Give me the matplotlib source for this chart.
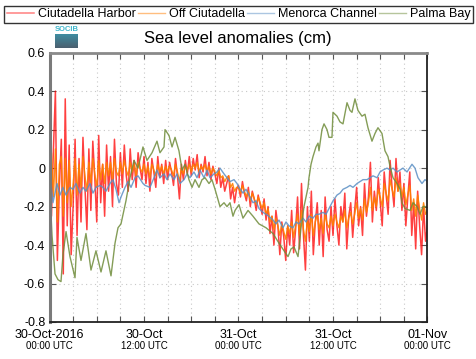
import numpy as np
import matplotlib
matplotlib.use("Agg")
import matplotlib.pyplot as plt
from matplotlib.colors import LinearSegmentedColormap

plt.rcParams['font.family'] = ['Liberation Sans', 'DejaVu Sans']

# time axis: hours since 30-Oct-2016 00:00 UTC
# Ciutadella Harbor / Off Ciutadella sampled every 15 min
step_hours = np.arange(0, 48.001, 0.25)

harbor = [
    0.05, -0.25, 0.10, 0.40, -0.48, -0.10, 0.15, -0.55, 0.36, -0.30, 0.12, -0.45,
    -0.20, 0.15, -0.35, 0.05, -0.28, 0.16, -0.10, -0.32, 0.10, -0.22, 0.14, -0.05,
    -0.28, 0.17, -0.18, 0.02, -0.25, 0.12, -0.12, 0.06, -0.20, 0.15, -0.08, -0.14,
    0.08, -0.10, 0.12, -0.04, -0.12, 0.10, -0.06, 0.04, -0.10, 0.08, 0.00, -0.06,
    0.06, -0.08, 0.03, -0.12, 0.05, -0.02, -0.10, 0.06, -0.05, 0.02, -0.08, 0.04,
    -0.06, 0.03, -0.02, -0.09, 0.05, -0.04, -0.16, 0.02, -0.06, 0.04, -0.03, 0.06,
    -0.04, 0.05, -0.01, 0.07, -0.05, 0.02, -0.02, 0.06, -0.04, 0.03, -0.06, 0.01,
    -0.03, -0.08, 0.00, -0.10, -0.05, -0.12, -0.08, -0.04, -0.16, -0.10, -0.18, -0.11,
    -0.09, -0.15, -0.07, -0.13, -0.17, -0.10, -0.20, -0.12, -0.16, -0.22, -0.14, -0.19,
    -0.24, -0.16, -0.27, -0.20, -0.34, -0.25, -0.40, -0.22, -0.30, -0.45, -0.28, -0.36,
    -0.48, -0.30, -0.40, -0.22, -0.44, -0.32, -0.15, -0.42, -0.08, -0.35, -0.53, -0.20,
    -0.38, -0.12, -0.45, -0.28, -0.18, -0.40, -0.22, -0.46, -0.15, -0.32, -0.38, -0.20,
    -0.35, -0.16, -0.30, -0.40, -0.20, -0.28, -0.13, -0.42, -0.25, -0.18, -0.36, -0.22,
    -0.10, -0.30, -0.20, -0.35, -0.08, -0.25, -0.15, 0.03, -0.28, -0.12, -0.22, -0.05,
    -0.18, -0.30, -0.02, -0.14, -0.24, 0.04, -0.10, -0.20, 0.05, -0.12, -0.02, -0.22,
    -0.08, -0.30, -0.15, -0.02, -0.35, -0.18, -0.42, -0.12, -0.30, -0.45, -0.20, -0.38,
    -0.30,
]

off_ciutadella = [
    -0.05, 0.08, -0.15, 0.10, -0.28, 0.02, 0.06, -0.25, 0.05, -0.18, 0.04, -0.20,
    -0.08, 0.05, -0.14, 0.02, -0.10, 0.06, -0.04, -0.12, 0.03, -0.08, 0.05, -0.03,
    -0.10, 0.04, -0.06, 0.02, -0.08, 0.03, -0.04, 0.03, -0.06, 0.05, -0.02, -0.04,
    0.03, -0.03, 0.04, -0.01, -0.04, 0.03, -0.02, 0.02, -0.04, 0.03, 0.00, -0.02,
    0.02, -0.03, 0.01, -0.05, 0.02, -0.01, -0.04, 0.02, -0.02, 0.01, -0.03, 0.01,
    -0.02, 0.01, -0.01, -0.04, 0.02, -0.02, -0.07, 0.00, -0.03, 0.01, -0.01, 0.02,
    -0.02, 0.02, 0.00, 0.03, -0.02, 0.01, -0.01, 0.02, -0.02, 0.01, -0.03, 0.00,
    -0.02, -0.04, -0.01, -0.05, -0.04, -0.07, -0.05, -0.04, -0.10, -0.08, -0.12, -0.10,
    -0.10, -0.13, -0.09, -0.12, -0.15, -0.12, -0.17, -0.13, -0.16, -0.19, -0.15, -0.18,
    -0.21, -0.18, -0.24, -0.21, -0.28, -0.25, -0.32, -0.26, -0.30, -0.35, -0.29, -0.33,
    -0.37, -0.30, -0.34, -0.28, -0.36, -0.30, -0.24, -0.35, -0.22, -0.32, -0.38, -0.27,
    -0.33, -0.24, -0.35, -0.28, -0.24, -0.32, -0.26, -0.34, -0.24, -0.29, -0.31, -0.25,
    -0.30, -0.24, -0.28, -0.31, -0.25, -0.28, -0.22, -0.31, -0.26, -0.23, -0.29, -0.24,
    -0.18, -0.26, -0.21, -0.27, -0.16, -0.23, -0.18, -0.10, -0.22, -0.15, -0.20, -0.11,
    -0.15, -0.20, -0.08, -0.13, -0.17, -0.06, -0.11, -0.15, -0.05, -0.12, -0.08, -0.15,
    -0.10, -0.19, -0.14, -0.09, -0.22, -0.16, -0.25, -0.14, -0.21, -0.27, -0.18, -0.24,
    -0.22,
]

# Menorca Channel
channel_hours = [
    0.0, 0.44, 0.70, 0.95, 1.33, 1.71, 2.10, 2.60, 2.98, 3.37, 3.87, 4.25, 4.63,
    5.14, 5.52, 5.90, 6.41, 6.79, 7.17, 7.68, 8.06, 8.44, 8.83, 9.08, 9.59, 9.97,
    10.35, 10.86, 11.24, 11.87, 12.13, 12.76, 13.27, 13.65, 14.03, 14.54, 14.92,
    15.30, 15.81, 16.19, 16.57, 17.08, 17.46, 17.84, 18.35, 18.73, 19.11, 19.62,
    20.0, 20.38, 20.89, 21.27, 21.65, 22.16, 22.54, 22.92, 23.43, 23.81, 24.06,
    24.57, 24.95, 25.33, 25.84, 26.22, 26.60, 27.11, 27.49, 27.87, 28.38, 28.76,
    29.14, 29.65, 30.03, 30.41, 30.92, 31.30, 31.68, 32.19, 32.57, 32.95, 33.46,
    33.84, 34.22, 34.73, 35.11, 35.49, 36.0, 36.51, 36.89, 37.27, 37.78, 38.16,
    38.54, 39.05, 39.43, 39.81, 40.32, 40.70, 41.08, 41.59, 41.97, 42.35, 42.86,
    43.24, 43.62, 44.13, 44.51, 44.89, 45.40, 46.03, 46.41, 46.79, 47.30, 47.68, 48.0,
]
channel = [
    0.0, -0.18, -0.13, -0.08, -0.14, -0.10, -0.14, -0.10, -0.11, -0.08, -0.13, -0.10, -0.12,
    -0.08, -0.13, -0.10, -0.09, -0.10, -0.12, -0.08, -0.06, -0.11, -0.18, -0.15, -0.10, -0.07,
    -0.10, -0.05, -0.04, -0.08, -0.09, -0.10, -0.05, -0.01, -0.05, -0.03, -0.06,
    -0.03, -0.06, -0.03, -0.08, -0.06, -0.03, -0.05, -0.02, -0.05, -0.01, -0.05,
    -0.01, -0.05, -0.03, -0.02, 0.0, -0.03, -0.05, -0.07, -0.06, -0.08, -0.10,
    -0.13, -0.11, -0.14, -0.18, -0.17, -0.21, -0.23, -0.24, -0.25, -0.27, -0.29,
    -0.27, -0.31, -0.28, -0.30, -0.31, -0.28, -0.29, -0.26, -0.28, -0.25, -0.26,
    -0.24, -0.24, -0.23, -0.24, -0.21, -0.17, -0.14, -0.13, -0.11, -0.10, -0.09,
    -0.10, -0.08, -0.07, -0.06, -0.06, -0.05, -0.04, -0.05, -0.02, -0.01, 0.0,
    -0.01, 0.0, -0.02, -0.01, 0.0, -0.02, 0.02, 0.0, -0.05, -0.08, -0.06, -0.07,
]

# Palma Bay
palma_hours = [
    0.0, 0.32, 0.70, 1.08, 1.46, 1.71, 2.10, 2.60, 3.24, 3.49, 4.0, 4.63, 5.27,
    5.90, 6.54, 7.17, 7.81, 8.32, 8.70, 9.08, 9.71, 10.22, 10.73, 11.24, 11.87,
    12.38, 13.02, 13.65, 14.03, 14.54, 14.67, 15.17, 15.56, 15.94, 16.44, 16.83,
    17.21, 17.71, 18.10, 18.48, 18.98, 19.37, 19.75, 20.25, 20.63, 21.02, 21.65,
    22.16, 22.54, 22.92, 23.30, 23.56, 24.06, 24.57, 25.21, 25.84, 26.60, 27.49,
    28.38, 29.14, 29.78, 30.29, 30.67, 31.05, 31.56, 31.94, 32.32, 32.83, 32.95,
    33.21, 33.46, 33.84, 34.10, 34.22, 34.60, 34.86, 35.24, 35.49, 35.87, 36.0,
    36.51, 36.89, 37.27, 37.78, 38.16, 38.41, 38.79, 39.17, 39.68, 40.06, 40.44,
    40.95, 41.33, 41.71, 42.22, 42.60, 42.98, 43.24, 43.62, 44.13, 44.51, 44.76,
    45.14, 45.78, 46.16, 46.67, 47.05, 47.43, 47.94,
]
palma = [
    -0.08, -0.35, -0.55, -0.58, -0.59, -0.45, -0.33, -0.46, -0.57, -0.36, -0.48, -0.34, -0.53,
    -0.43, -0.54, -0.43, -0.56, -0.39, -0.31, -0.29, -0.17, -0.05, 0.04, 0.0, 0.11,
    0.04, 0.08, 0.14, 0.08, 0.11, 0.20, 0.17, 0.11, 0.16, 0.09, -0.01,
    0.02, -0.06, -0.10, -0.06, -0.10, -0.06, -0.05, -0.08, -0.06, -0.11, -0.20,
    -0.18, -0.20, -0.18, -0.25, -0.22, -0.19, -0.26, -0.22, -0.25, -0.29, -0.31,
    -0.34, -0.39, -0.43, -0.46, -0.42, -0.41, -0.46, -0.31, -0.20, -0.10, -0.05,
    0.02, 0.06, 0.11, 0.13, 0.09, 0.20, 0.23, 0.20, 0.16, 0.16, 0.29,
    0.27, 0.24, 0.23, 0.34, 0.30, 0.29, 0.36, 0.30, 0.27, 0.28, 0.21,
    0.14, 0.18, 0.21, 0.18, 0.09, 0.06, 0.01, -0.05, -0.08, -0.11, -0.18,
    -0.21, -0.22, -0.18, -0.20, -0.24, -0.20, -0.20,
]

tick_hours = [0, 12, 24, 36, 48]
tick_dates = ['30-Oct-2016', '30-Oct', '31-Oct', '31-Oct', '01-Nov']
tick_times = ['00:00 UTC', '12:00 UTC', '00:00 UTC', '12:00 UTC', '00:00 UTC']

fig = plt.figure(figsize=(4.76, 3.59), dpi=100)
ax = fig.add_axes([49.5 / 476, 1 - 322 / 359, 378 / 476, 269.3 / 359])

ax.plot(step_hours, harbor, color='#ff0000', lw=1.1, alpha=0.75, label='Ciutadella Harbor')
ax.plot(step_hours, off_ciutadella, color='#ff7f00', lw=1.0, alpha=0.9, label='Off Ciutadella')
ax.plot(channel_hours, channel, color='#5b8fc4', lw=1.0, alpha=0.85, label='Menorca Channel')
ax.plot(palma_hours, palma, color='#6f8c3a', lw=1.0, alpha=0.85, label='Palma Bay')

ax.set_xlim(0, 48)
ax.set_ylim(-0.8, 0.6)
ax.set_yticks(np.arange(-0.8, 0.61, 0.2))
ax.set_yticklabels(['-0.8', '-0.6', '-0.4', '-0.2', '0', '0.2', '0.4', '0.6'], fontsize=9)
ax.set_xticks(tick_hours)
ax.set_xticklabels(tick_dates, fontsize=9)
ax.set_xticks(np.arange(0, 48.1, 3), minor=True)
ax.tick_params(axis='both', which='both', direction='in', length=4, width=0.8,
               top=True, right=True, color='#555555')
ax.tick_params(axis='x', which='major', pad=5)
ax.tick_params(axis='y', which='major', pad=3)
ax.grid(True, which='both', axis='x', color='#c8c8c8', linestyle=(0, (1, 3)), lw=0.8)
ax.grid(True, which='major', axis='y', color='#c8c8c8', linestyle=(0, (1, 3)), lw=0.8)

ax.spines['left'].set_color('#7a7a7a')
ax.spines['left'].set_linewidth(2.2)
ax.spines['top'].set_color('#8a8a8a')
ax.spines['top'].set_linewidth(2.0)
ax.spines['bottom'].set_color('#222222')
ax.spines['right'].set_color('#222222')
ax.spines['bottom'].set_linewidth(1.3)
ax.spines['right'].set_linewidth(1.3)

for h, t in zip(tick_hours, tick_times):
    ax.text(h, -0.088, t, transform=ax.get_xaxis_transform(), ha='center', va='center',
            fontsize=7)

fig.text(0.5, 1 - 38 / 359, 'Sea level anomalies (cm)', ha='center', va='center', fontsize=12)

leg = fig.legend(loc='lower left', ncol=4, mode='expand',
                 bbox_to_anchor=(4 / 476, 1 - 22.5 / 359, 469 / 476, 18 / 359),
                 fontsize=9, frameon=True, fancybox=False, handlelength=2.2,
                 handletextpad=0.3, borderpad=0.2, borderaxespad=0.0, columnspacing=0.3)
leg.get_frame().set_edgecolor('black')
leg.get_frame().set_linewidth(1.0)
for line in leg.get_lines():
    line.set_alpha(0.5)

# SOCIB logo stand-in
logo = fig.add_axes([55 / 476, 1 - 48 / 359, 23 / 476, 14 / 359])
grad = np.linspace(0, 1, 20).reshape(-1, 1)
cmap = LinearSegmentedColormap.from_list('socib', ['#3f8ca0', '#4b6070'])
logo.imshow(grad, aspect='auto', cmap=cmap)
logo.axis('off')
fig.text(66.5 / 476, 1 - 29.5 / 359, 'SOCIB', ha='center', va='center', fontsize=5.5,
         color='#3fb6cc', fontweight='bold')

fig.savefig('out.png', dpi=100)
